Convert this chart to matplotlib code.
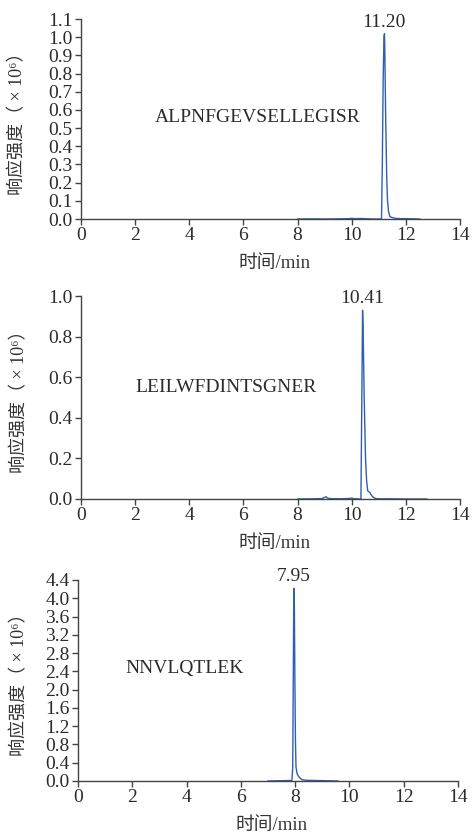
import matplotlib
matplotlib.use("Agg")
import matplotlib.pyplot as plt
import numpy as np

plt.rcParams['font.family'] = ['Liberation Serif', 'Noto Sans CJK SC', 'DejaVu Sans']

# chromatogram traces (time in min, intensity in 1e6)
t1 = [8.0, 8.5, 9.0, 9.5, 9.9, 10.0, 10.1, 10.3, 10.5, 10.8, 11.0, 11.10, 11.13, 11.16,
      11.19, 11.21, 11.22, 11.25, 11.29, 11.32, 11.36, 11.41, 11.5, 11.6, 11.8, 12.0, 12.3, 12.52]
i1 = [0.0, 0.001, 0.0, 0.001, 0.002, 0.004, 0.002, 0.003, 0.002, 0.0, 0.0, 0.0, 0.3, 0.75,
      1.0, 1.02, 0.95, 0.6, 0.25, 0.105, 0.04, 0.013, 0.008, 0.004, 0.002, 0.002, 0.001, 0.0]

t2 = [8.0, 8.5, 8.9, 9.0, 9.05, 9.1, 9.2, 9.6, 9.95, 10.0, 10.05, 10.3, 10.34, 10.37, 10.40,
      10.42, 10.46, 10.51, 10.55, 10.59, 10.63, 10.67, 10.72, 10.78, 10.85, 10.95, 11.5, 12.0, 12.77]
i2 = [0.0, 0.001, 0.002, 0.008, 0.011, 0.005, 0.002, 0.001, 0.003, 0.005, 0.002, 0.0, 0.0, 0.45, 0.93,
      0.85, 0.5, 0.2, 0.09, 0.04, 0.036, 0.032, 0.02, 0.01, 0.004, 0.001, 0.001, 0.0, 0.0]

t3 = [7.0, 7.4, 7.8, 7.88, 7.91, 7.93, 7.95, 7.97, 7.99, 8.01, 8.03, 8.07, 8.13, 8.24,
      8.4, 8.8, 9.2, 9.58]
i3 = [0.0, 0.005, 0.01, 0.01, 0.3, 2.2, 4.22, 3.9, 2.2, 0.9, 0.31, 0.16, 0.094, 0.03,
      0.015, 0.01, 0.005, 0.0]

peptides = ["ALPNFGEVSELLEGISR", "LEILWFDINTSGNER", "NNVLQTLEK"]
peak_times = ["11.20", "10.41", "7.95"]
peak_xy = [(11.19, 1.02), (10.39, 0.93), (7.93, 4.22)]
name_xy = [(2.73, 0.56), (2.0, 0.55), (1.73, 2.47)]
y_max = [1.1, 1.0, 4.4]
y_step = [0.1, 0.2, 0.4]
x_ticks = list(range(0, 15, 2))

# axes boxes in figure fractions
boxes = [[0.1709, 0.7377, 0.7996, 0.2395],
         [0.1709, 0.4024, 0.7996, 0.2431],
         [0.1646, 0.0647, 0.8017, 0.2407]]
ylab_x = [-0.145, -0.14, -0.132]

traces = [(t1, i1), (t2, i2), (t3, i3)]
txt_col = '#2b2b2b'
line_col = '#2f5fb3'

fig = plt.figure(figsize=(4.74, 8.35), dpi=100)

for k in range(3):
    ax = fig.add_axes(boxes[k])
    t, inten = traces[k]
    ax.plot(t, inten, color=line_col, lw=1.0)
    ax.set_xlim(0, 14)
    ax.set_ylim(0, y_max[k])
    ax.set_xticks(x_ticks)
    yt = np.round(np.arange(0, y_max[k] + 1e-9, y_step[k]), 1)
    ax.set_yticks(yt)
    ax.set_yticklabels([f"{v:.1f}" for v in yt])
    for s in ['top', 'right']:
        ax.spines[s].set_visible(False)
    for s in ['left', 'bottom']:
        ax.spines[s].set_color('#444444')
        ax.spines[s].set_linewidth(1.0)
    ax.tick_params(direction='out', length=4, width=1.0, colors='#444444',
                   labelcolor=txt_col, labelsize=14, pad=2)

    ax.set_ylabel("响应强度（ × 10⁶）", fontsize=13, color='#333333')
    ax.yaxis.set_label_coords(ylab_x[k], 0.5)
    ax.set_xlabel("时间/min", fontsize=13.5, color='#333333')
    h_px = boxes[k][3] * 835
    ax.xaxis.set_label_coords(0.51, -36 / h_px)

    ax.text(name_xy[k][0], name_xy[k][1], peptides[k], fontsize=14,
            color=txt_col, va='center', ha='left')
    ax.annotate(peak_times[k], xy=peak_xy[k], xytext=(0, 2), textcoords='offset points',
                ha='center', va='bottom', fontsize=14, color=txt_col,
                annotation_clip=False)

fig.savefig("out.png", dpi=100)
